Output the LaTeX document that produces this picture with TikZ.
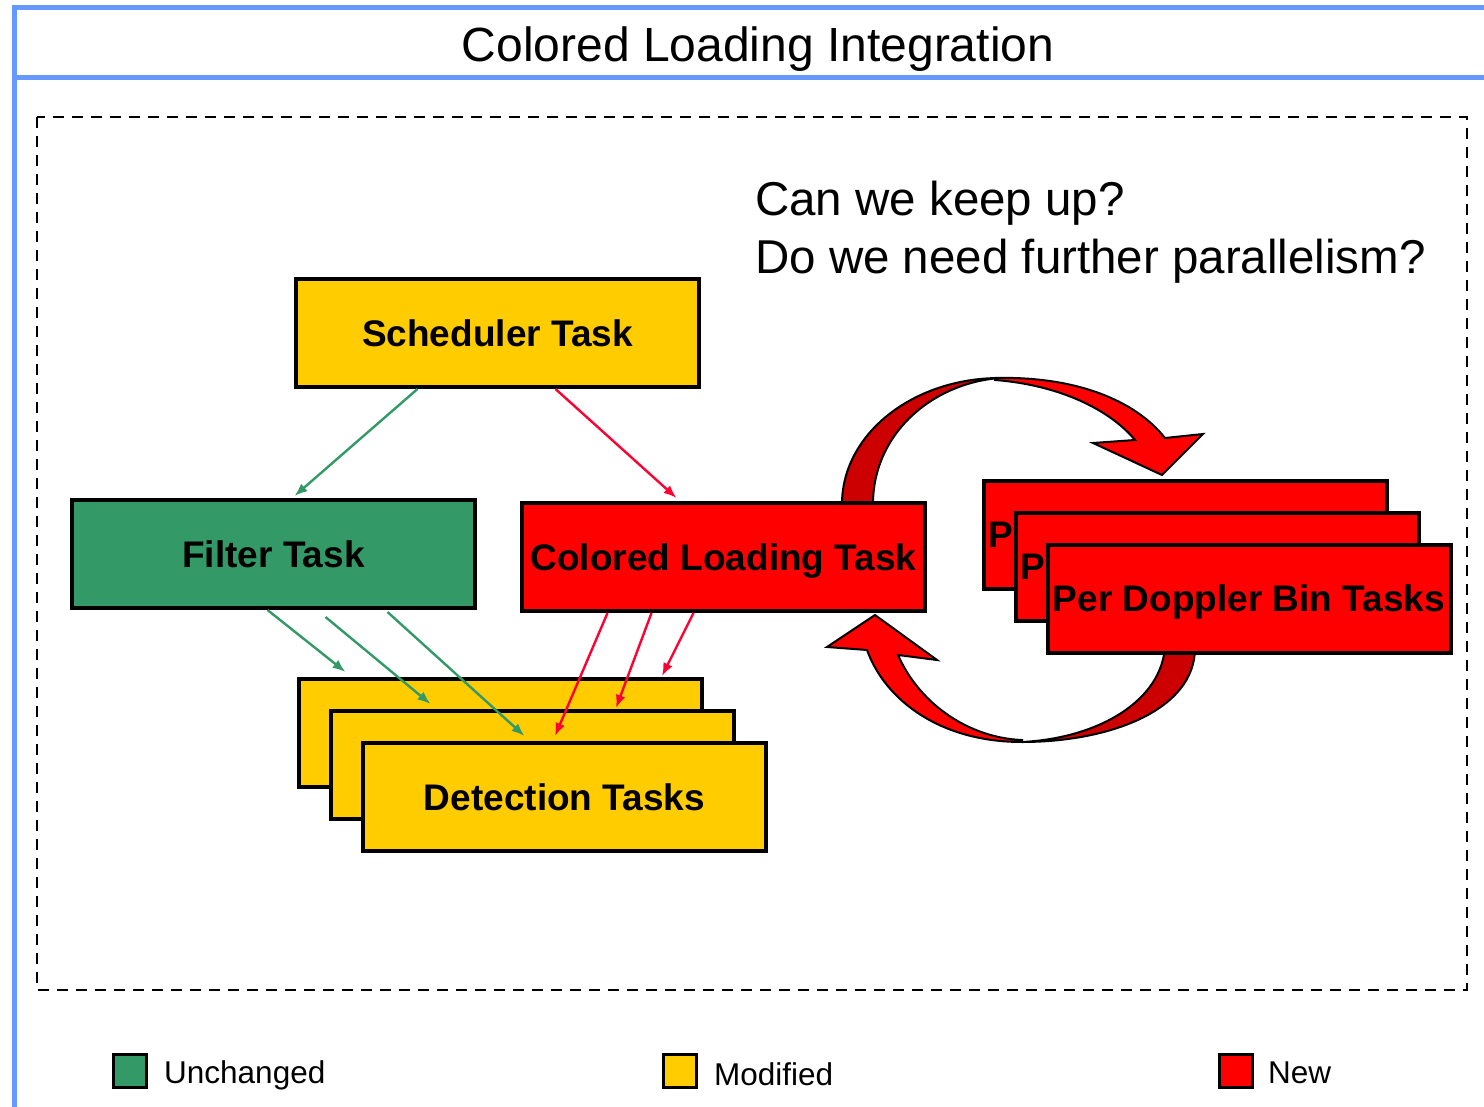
\documentclass[tikz,border=0pt]{standalone}
\usepackage{fontspec}
\setmainfont{Liberation Sans}
\usetikzlibrary{arrows,arrows.meta}

\definecolor{blueline}{RGB}{102,153,255}
\definecolor{taskyellow}{RGB}{255,204,0}
\definecolor{taskgreen}{RGB}{51,153,102}
\definecolor{taskred}{RGB}{255,0,0}
\definecolor{darkred}{RGB}{204,0,0}
\definecolor{linkred}{RGB}{255,0,51}

\begin{document}
\begin{tikzpicture}[x=1pt, y=-1pt,
	taskbox/.style={draw=black, line width=4pt, minimum width=403pt, minimum height=108pt, inner sep=0pt, text depth=0pt, font=\fontsize{37}{44}\selectfont\bfseries},
	legbox/.style={draw=black, line width=3pt, minimum size=33pt, inner sep=0pt},
	greenlink/.style={-{Latex[length=13pt, width=10pt]}, taskgreen, line width=2.4pt},
	redlink/.style={-{Latex[length=13pt, width=10pt]}, linkred, line width=2.4pt},
	loop/.style={draw=black, line width=2pt, line join=miter}]
			\useasboundingbox (0,0) rectangle (1484,1107);
			\coordinate (legendgreen) at (129.5, 1071);
			\coordinate (legendyellow) at (680, 1071);
			\coordinate (legendred) at (1236, 1071);
			
			% frame and title
			\draw[blueline, line width=5pt] (12, 8) -- (1484, 8);
			\draw[blueline, line width=5pt] (14, 78) -- (1484, 78);
			\draw[blueline, line width=5pt] (14, 6) -- (14, 1107);
			\node[anchor=base, inner sep=0pt, font=\fontsize{48}{56}\selectfont] (title) at (758, 62) {Colored Loading Integration};
			\draw[line width=2pt, dash pattern=on 11pt off 8pt] (37, 117) rectangle (1467, 990);
			
			\node[anchor=base west, inner sep=0pt, font=\fontsize{47.5}{56}\selectfont] (keepup) at (755, 216) {Can we keep up?};
			\node[anchor=base west, inner sep=0pt, font=\fontsize{47.5}{56}\selectfont] (parallel) at (755, 274) {Do we need further parallelism?};
			
			% big loop arrows (behind the boxes)
			\filldraw[loop, fill=darkred] (842, 504) .. controls (842, 434) and (913, 378) .. (1000, 378) .. controls (932, 383) and (873, 434) .. (873, 504) -- cycle;
			\filldraw[loop, fill=taskred] (995, 378) .. controls (1075, 376) and (1135, 400) .. (1165, 438) -- (1203, 434) -- (1162, 475) -- (1093, 443) -- (1135, 440) .. controls (1110, 410) and (1060, 385) .. (995, 380) -- cycle;
			\filldraw[loop, fill=darkred] (1195, 648) .. controls (1195, 710) and (1110, 742) .. (1022, 742) .. controls (1100, 738) and (1162, 700) .. (1165, 646) -- cycle;
			\filldraw[loop, fill=taskred] (1022, 742) .. controls (940, 742) and (885, 700) .. (867, 650) -- (827, 647) -- (875, 615) -- (937, 660) -- (898, 655) .. controls (920, 705) and (970, 738) .. (1022, 740) -- cycle;
			
			% tasks
			\node[taskbox, fill=taskyellow] (sched) at (497.5, 333) {Scheduler Task};
			\node[taskbox, fill=taskgreen] (filter) at (273.5, 554) {Filter Task};
			\node[taskbox, fill=taskred] (colload) at (723.5, 557) {Colored Loading Task};
			\node[taskbox, fill=taskyellow] (det1) at (500.5, 733) {};
			\node[taskbox, fill=taskyellow] (det2) at (532.5, 765) {};
			\node[taskbox, fill=taskyellow] (det3) at (564.5, 797) {Detection Tasks};
			\node[taskbox, fill=taskred] (dop1) at (1185, 534.5) {Per Doppler Bin Tasks};
			\node[taskbox, fill=taskred] (dop2) at (1217, 566.5) {Per Doppler Bin Tasks};
			\node[taskbox, fill=taskred] (dop3) at (1249, 598.5) {Per Doppler Bin Tasks};
			
			% data flow
			\draw[greenlink] ([xshift=-80pt]sched.south) -- ([xshift=21pt, yshift=2pt]filter.north);
			\draw[redlink] ([xshift=58pt]sched.south) -- ([xshift=-47pt, yshift=3pt]colload.north);
			\draw[greenlink] ([xshift=-6pt]filter.south) -- ([xshift=-155pt, yshift=5pt]det1.north);
			\draw[greenlink] ([xshift=52pt, yshift=-7pt]filter.south) -- ([xshift=-102pt, yshift=5pt]det2.north);
			\draw[greenlink] ([xshift=114pt, yshift=-2pt]filter.south) -- ([xshift=-40pt, yshift=5pt]det3.north);
			\draw[redlink] ([xshift=-116pt]colload.south) -- ([xshift=-9.5pt, yshift=5pt]det3.north);
			\draw[redlink] ([xshift=-72pt]colload.south) -- ([xshift=83.5pt, yshift=1pt]det2.north);
			\draw[redlink] ([xshift=-30pt]colload.south) -- ([xshift=161.5pt, yshift=1pt]det1.north);
			
			% legend
			\node[legbox, fill=taskgreen] (unch) at (legendgreen) {};
			\node[legbox, fill=taskyellow] (modi) at (legendyellow) {};
			\node[legbox, fill=taskred] (new) at (legendred) {};
			\node[anchor=base west, inner sep=0pt, font=\fontsize{31.5}{37}\selectfont] (unchtext) at (164, 1083) {Unchanged};
			\node[anchor=base west, inner sep=0pt, font=\fontsize{31.5}{37}\selectfont] (moditext) at (714, 1085) {Modified};
			\node[anchor=base west, inner sep=0pt, font=\fontsize{31.5}{37}\selectfont] (newtext) at (1268, 1083) {New};
\end{tikzpicture}
\end{document}
